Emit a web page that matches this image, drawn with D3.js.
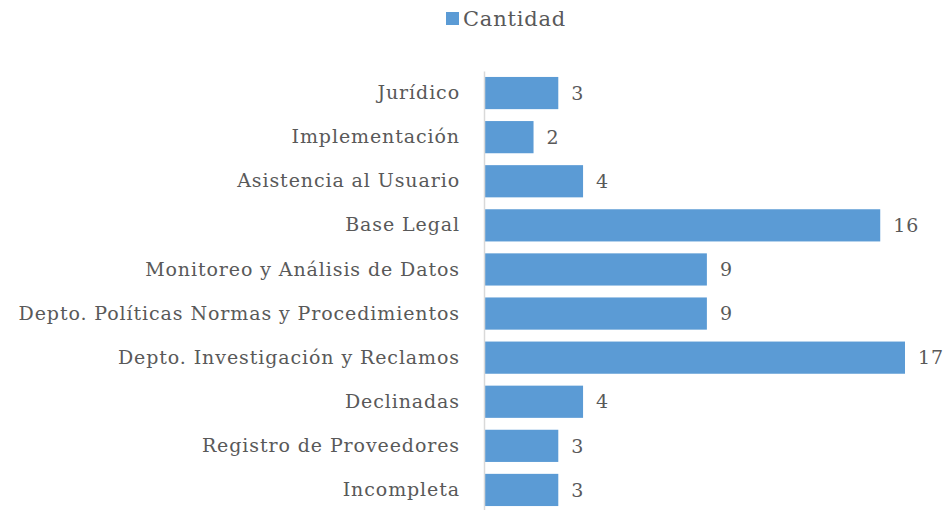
<!DOCTYPE html>
<html>
<head>
<meta charset="utf-8">
<script src="https://cdn.jsdelivr.net/npm/d3@7"></script>
<style>
  body { margin: 0; background: #fff; }
  svg text { font-family: "Palatino Linotype", "Book Antiqua", "DejaVu Serif", serif; fill: #595959; }
</style>
</head>
<body>
<div id="chart"></div>
<script>
const categories = [
  "Jurídico",
  "Implementación",
  "Asistencia al Usuario",
  "Base Legal",
  "Monitoreo y Análisis de Datos",
  "Depto. Políticas Normas y Procedimientos",
  "Depto. Investigación y Reclamos",
  "Declinadas",
  "Registro de Proveedores",
  "Incompleta"
];
const cantidad = [3, 2, 4, 16, 9, 9, 17, 4, 3, 3];
const seriesName = "Cantidad";

const width = 949, height = 510;
const axisX = 484;
const fontStack = "\"Palatino Linotype\", \"Book Antiqua\", \"DejaVu Serif\", serif";

const svg = d3.select("#chart").append("svg")
  .attr("width", width)
  .attr("height", height);

const x = d3.scaleLinear()
  .domain([0, 17])
  .range([axisX, 905]);

const y = d3.scaleBand()
  .domain(categories)
  .range([71, 512])
  .paddingInner(0.27)
  .paddingOuter(0.135);

// barras
svg.selectAll(".bar")
  .data(categories)
  .enter()
  .append("rect")
  .attr("x", x(0))
  .attr("y", d => y(d))
  .attr("width", (d, i) => x(cantidad[i]) - x(0))
  .attr("height", y.bandwidth())
  .attr("fill", "#5B9BD5");

// eje vertical
const yAxis = svg.append("g")
  .attr("transform", `translate(${axisX},0)`)
  .call(d3.axisLeft(y).tickSize(0).tickPadding(24));

yAxis.select(".domain").attr("stroke", "#d9d9d9").attr("stroke-width", 1.5);
yAxis.selectAll("text")
  .style("font-family", fontStack)
  .style("font-size", "19px")
  .style("letter-spacing", "0.9px")
  .attr("fill", "#595959");

// etiquetas de valor
svg.selectAll(".val")
  .data(categories)
  .enter()
  .append("text")
  .attr("x", (d, i) => x(cantidad[i]) + 13)
  .attr("y", d => y(d) + y.bandwidth() / 2)
  .attr("dy", "0.35em")
  .style("font-size", "19px")
  .style("letter-spacing", "0.9px")
  .text((d, i) => cantidad[i]);

// leyenda
const legend = svg.append("g");
legend.append("rect")
  .attr("x", 446).attr("y", 12)
  .attr("width", 13).attr("height", 13)
  .attr("fill", "#5B9BD5");
legend.append("text")
  .attr("x", 463).attr("y", 26)
  .style("font-size", "21px")
  .style("letter-spacing", "0.8px")
  .text(seriesName);
</script>
</body>
</html>
